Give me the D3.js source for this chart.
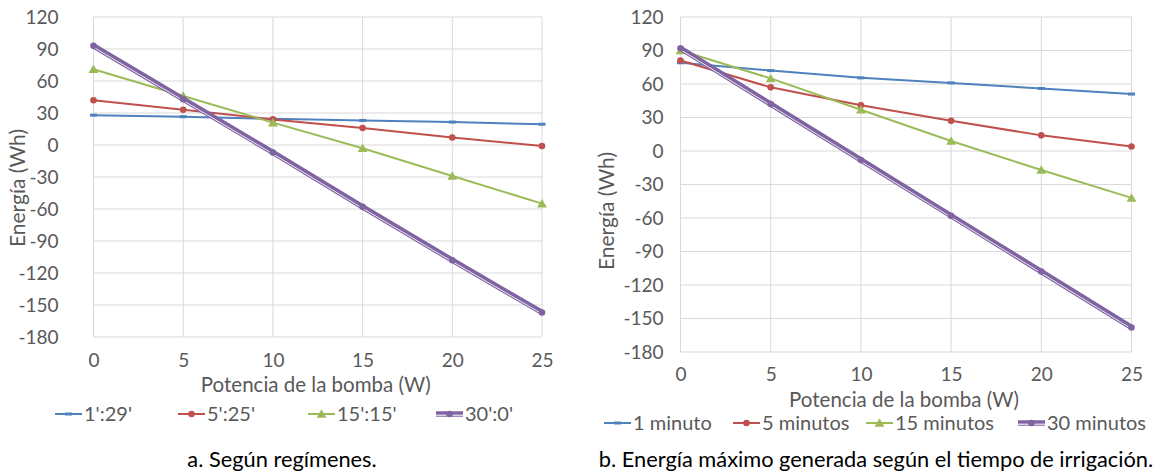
<!DOCTYPE html>
<html><head><meta charset="utf-8">
<script src="https://cdn.jsdelivr.net/npm/d3@7"></script>
<style>
body{margin:0;background:#fff;}
svg{display:block;font-family:"Lato","Open Sans",sans-serif;}
</style></head>
<body><svg id="c" width="1169" height="471"></svg>
<script>
const xValues = [0, 5, 10, 15, 20, 25];
const yTicks = [120, 90, 60, 30, 0, -30, -60, -90, -120, -150, -180];

const leftNames = ["1':29'", "5':25'", "15':15'", "30':0'"];
const left1 = [28, 26.5, 24.5, 23, 21.5, 19.5];
const left2 = [42, 33, 24, 16, 7, -1];
const left3 = [71, 46, 21, -3, -29, -55];
const left4 = [93, 43, -7, -58, -108, -157];

const rightNames = ["1 minuto", "5 minutos", "15 minutos", "30 minutos"];
const right1 = [79, 72, 65.5, 61, 56, 51];
const right2 = [81, 57, 41, 27, 14, 4];
const right3 = [90, 65, 37, 9, -17, -42];
const right4 = [92, 42, -8, -58, -108, -158];

const captions = ["a. Según regímenes.", "b. Energía máximo generada según el tiempo de irrigación."];
const xTitle = "Potencia de la bomba (W)";
const yTitle = "Energía (Wh)";

const colors = ["#4F81BD", "#C0504D", "#9BBB59", "#8064A2"];
const markers = ["dash", "circle", "triangle", "circle"];
const svg = d3.select("#c");

function drawMarker(g, type, x, y, c) {
  if (type === "dash") {
    g.append("rect").attr("x", x - 3.5).attr("y", y - 1.5).attr("width", 7).attr("height", 3).attr("fill", c);
  } else if (type === "circle") {
    g.append("circle").attr("cx", x).attr("cy", y).attr("r", 3.3).attr("fill", c);
  } else {
    g.append("path").attr("d", d3.symbol(d3.symbolTriangle, 42)()).attr("transform", `translate(${x},${y + 1})`).attr("fill", c);
  }
}

function chart(cfg) {
  const x = d3.scaleLinear().domain([0, 25]).range([cfg.x0, cfg.x1]);
  const y = d3.scaleLinear().domain([-180, 120]).range([cfg.y1, cfg.y0]);
  const g = svg.append("g");
  g.append("g").selectAll("line").data(yTicks).join("line")
    .attr("x1", cfg.x0).attr("x2", cfg.x1).attr("y1", d => y(d)).attr("y2", d => y(d))
    .attr("stroke", "#d9d9d9").attr("stroke-width", 1);
  g.append("g").selectAll("line").data(xValues).join("line")
    .attr("y1", cfg.y0).attr("y2", cfg.y1).attr("x1", d => x(d)).attr("x2", d => x(d))
    .attr("stroke", "#d9d9d9").attr("stroke-width", 1);
  const ya = d3.axisLeft(y).tickValues(yTicks).tickSize(0).tickPadding(cfg.yPad).tickFormat(d => d < 0 ? "-" + Math.abs(d) : d);
  const yg = g.append("g").attr("transform", `translate(${cfg.x0},0)`).call(ya);
  yg.select(".domain").remove();
  yg.selectAll("text").attr("font-size", 19).attr("fill", "#595959").attr("font-family", "Lato");
  const xa = d3.axisBottom(x).tickValues(xValues).tickSize(0).tickPadding(cfg.xPad);
  const xg = g.append("g").attr("transform", `translate(0,${cfg.y1})`).call(xa);
  xg.select(".domain").remove();
  xg.selectAll("text").attr("font-size", 19).attr("fill", "#595959").attr("font-family", "Lato");
  g.append("text").attr("x", (cfg.x0 + cfg.x1) / 2 - 2).attr("y", cfg.xtY).attr("text-anchor", "middle")
    .attr("font-size", 20.5).attr("fill", "#595959").text(xTitle);
  g.append("text").attr("transform", `translate(${cfg.ytX},${cfg.ytC}) rotate(-90)`)
    .attr("text-anchor", "middle").attr("font-size", 21).attr("fill", "#595959").text(yTitle);
  const line = d3.line().x((d, i) => x(xValues[i])).y(d => y(d));
  cfg.series.forEach((s, k) => {
    const c = colors[k];
    const sg = g.append("g");
    if (k === 3) {
      sg.append("path").attr("d", line(s)).attr("fill", "none").attr("stroke", c).attr("stroke-width", 5.5);
      sg.append("path").attr("d", line(s)).attr("fill", "none").attr("stroke", "#fff").attr("stroke-width", 1).attr("opacity", 0.85)
        .attr("transform", "translate(0,1.4)");
    } else {
      sg.append("path").attr("d", line(s)).attr("fill", "none").attr("stroke", c).attr("stroke-width", 2);
    }
    s.forEach((v, i) => drawMarker(sg, markers[k], x(xValues[i]), y(v), c));
  });
  cfg.names.forEach((n, k) => {
    const lx = cfg.legX[k], ly = cfg.legY;
    const c = colors[k];
    const lg = g.append("g");
    if (k === 3) {
      lg.append("line").attr("x1", lx).attr("x2", lx + 27).attr("y1", ly).attr("y2", ly).attr("stroke", c).attr("stroke-width", 5.5);
      lg.append("line").attr("x1", lx).attr("x2", lx + 27).attr("y1", ly + 1.2).attr("y2", ly + 1.2).attr("stroke", "#fff").attr("stroke-width", 1);
    } else {
      lg.append("line").attr("x1", lx).attr("x2", lx + 27).attr("y1", ly).attr("y2", ly).attr("stroke", c).attr("stroke-width", 2);
    }
    drawMarker(lg, markers[k], lx + 13.5, ly, c);
    lg.append("text").attr("x", lx + 29).attr("y", ly + 7).attr("font-size", 20).attr("fill", "#595959").text(n);
  });
  svg.append("text").attr("x", cfg.capX).attr("y", 467).attr("text-anchor", "middle").attr("font-size", 21.8)
    .attr("fill", "#000").text(cfg.caption);
}

chart({x0: 93.5, x1: 542, y0: 17, y1: 337, yPad: 35, xPad: 17, xtY: 392, ytX: 25, ytC: 188,
  series: [left1, left2, left3, left4], names: leftNames, legX: [55, 178, 308, 436], legY: 414,
  caption: captions[0], capX: 282});
chart({x0: 680.5, x1: 1131.5, y0: 17, y1: 352, yPad: 17, xPad: 16, xtY: 407, ytX: 614, ytC: 211,
  series: [right1, right2, right3, right4], names: rightNames, legX: [604, 733, 866, 1018], legY: 423,
  caption: captions[1], capX: 876});
</script></body></html>
